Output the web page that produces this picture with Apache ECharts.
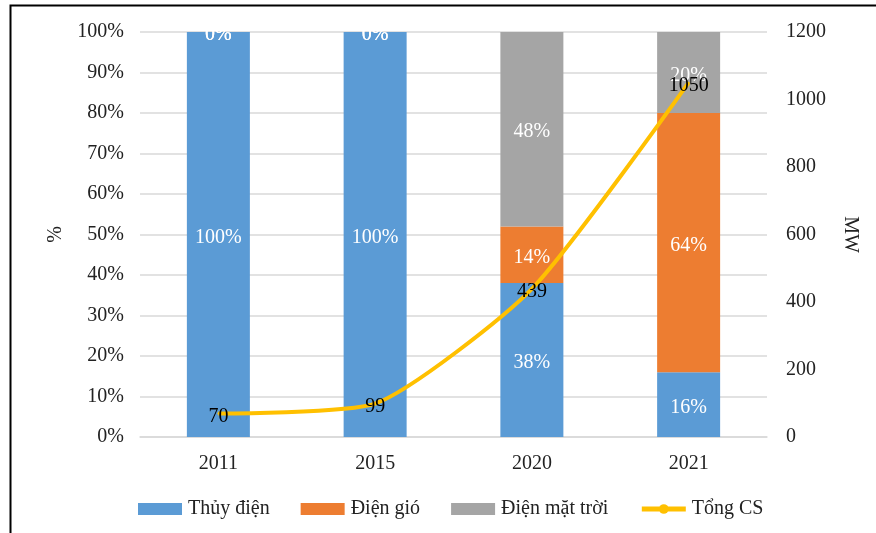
<!DOCTYPE html>
<html>
<head>
<meta charset="utf-8">
<script src="https://cdn.jsdelivr.net/npm/echarts@6/dist/echarts.min.js"></script>
<style>
  html, body { margin: 0; padding: 0; background: #fff; }
  #chart { width: 876px; height: 533px; }
</style>
</head>
<body>
<div id="chart"></div>
<script>
// du lieu doc tu hinh
var years = ['2011', '2015', '2020', '2021'];
var thuyDien = [100, 100, 38, 16];
var dienGio = [0, 0, 14, 64];
var dienMatTroi = [0, 0, 48, 20];
var tongCS = [70, 99, 439, 1050];

var font = '"Liberation Serif", "Times New Roman", serif';
var fs = 20;

function barLabel() {
  return {
    show: true,
    position: 'inside',
    offset: [0, 3],
    color: '#fff',
    fontFamily: font,
    fontSize: fs,
    formatter: '{c}%'
  };
}

var myChart = echarts.init(document.getElementById('chart'));
var option = {
  animation: false,
  textStyle: { fontFamily: font },
  graphic: [{
    type: 'rect',
    shape: { x: 10.5, y: 5.5, width: 900, height: 600 },
    style: { fill: 'none', stroke: '#000', lineWidth: 2 },
    silent: true
  }],
  grid: { left: 140, right: 109, top: 32, bottom: 96 },
  legend: {
    bottom: 9,
    left: 133,
    itemGap: 31,
    itemWidth: 44,
    itemHeight: 12,
    textStyle: { fontFamily: font, fontSize: fs, color: '#222', padding: [0, 0, 0, 1] },
    data: [
      { name: 'Thủy điện', icon: 'rect' },
      { name: 'Điện gió', icon: 'rect' },
      { name: 'Điện mặt trời', icon: 'rect' },
      { name: 'Tổng CS', lineStyle: { width: 5 }, itemStyle: { color: '#FFC000' } }
    ]
  },
  xAxis: {
    type: 'category',
    data: years,
    axisTick: { show: false },
    axisLine: { lineStyle: { color: '#d9d9d9', width: 1.5 } },
    axisLabel: { fontFamily: font, fontSize: fs, color: '#222', margin: 17 }
  },
  yAxis: [{
    type: 'value',
    min: 0,
    max: 100,
    interval: 10,
    name: '%',
    nameLocation: 'middle',
    nameRotate: 90,
    nameGap: 74,
    nameTextStyle: { fontFamily: font, fontSize: fs, color: '#222' },
    axisLabel: { formatter: '{value}%', fontFamily: font, fontSize: fs, color: '#222', margin: 16, padding: [6, 0, 0, 0] },
    axisLine: { show: false },
    axisTick: { show: false },
    splitLine: { lineStyle: { color: '#d9d9d9', width: 1.5 } }
  }, {
    type: 'value',
    min: 0,
    max: 1200,
    interval: 200,
    name: 'MW',
    nameLocation: 'middle',
    nameRotate: -90,
    nameGap: 73,
    nameTextStyle: { fontFamily: font, fontSize: fs, color: '#222' },
    axisLabel: { formatter: function (v) { return String(v); }, fontFamily: font, fontSize: fs, color: '#222', margin: 19, padding: [6, 0, 0, 0] },
    axisLine: { show: false },
    axisTick: { show: false },
    splitLine: { show: false }
  }],
  series: [{
    name: 'Thủy điện',
    type: 'bar',
    stack: 'tong',
    barWidth: 63,
    itemStyle: { color: '#5B9BD5' },
    label: barLabel(),
    data: thuyDien
  }, {
    name: 'Điện gió',
    type: 'bar',
    stack: 'tong',
    itemStyle: { color: '#ED7D31' },
    label: barLabel(),
    data: dienGio
  }, {
    name: 'Điện mặt trời',
    type: 'bar',
    stack: 'tong',
    itemStyle: { color: '#A5A5A5' },
    label: barLabel(),
    data: dienMatTroi
  }, {
    name: 'Tổng CS',
    type: 'line',
    yAxisIndex: 1,
    smooth: 0.2,
    symbol: 'circle',
    symbolSize: 2,
    itemStyle: { color: '#FFC000' },
    lineStyle: { color: '#FFC000', width: 4 },
    label: {
      show: true,
      position: 'inside',
      offset: [0, 3],
      color: '#000',
      fontFamily: font,
      fontSize: fs
    },
    z: 5,
    data: tongCS
  }]
};
myChart.setOption(option);
</script>
</body>
</html>
